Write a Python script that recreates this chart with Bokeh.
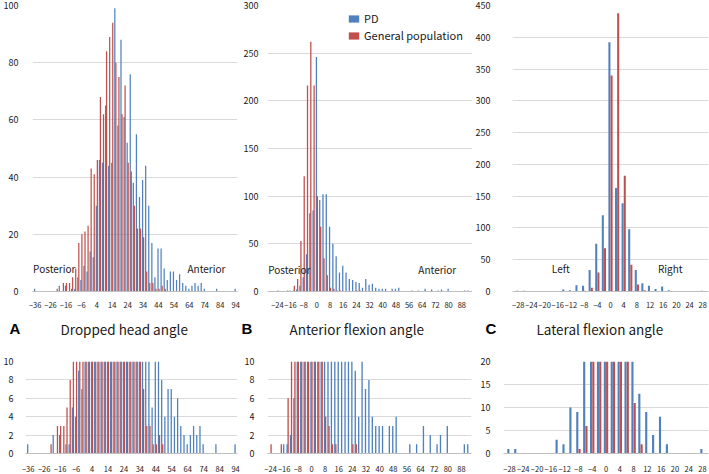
from bokeh.plotting import figure
from bokeh.layouts import column, row
from bokeh.models import ColumnDataSource, FixedTicker, Label, Legend, LegendItem, Range1d
from bokeh.transform import dodge
from bokeh.embed import file_html
from bokeh.resources import INLINE

# ---------------- data ----------------
cats_A = list(range(-36, 96, 2))
pd_A = [1, 0, 0, 0, 0, 0, 0, 0, 2, 0, 2, 0, 1, 1, 5, 4, 9, 7, 14, 12, 30, 46, 45, 65, 44, 45,
        99, 58, 88, 61, 52, 76, 38, 55, 33, 39, 44, 30, 17, 5, 15, 15, 8, 4, 7, 7, 4, 6, 3, 2,
        1, 2, 3, 2, 3, 1, 0, 0, 0, 1, 0, 0, 0, 0, 0, 1]
gp_A = [0, 0, 0, 0, 0, 0, 0, 1, 0, 3, 3, 3, 5, 8, 17, 20, 21, 23, 43, 41, 46, 68, 62, 84, 89, 94,
        80, 75, 62, 72, 45, 42, 30, 22, 22, 19, 7, 3, 3, 1, 1, 2, 1, 0, 0, 0, 0, 0, 0, 0,
        0, 0, 0, 0, 0, 0, 0, 0, 0, 0, 0, 0, 0, 0, 0, 0]
ticks_A = [-36, -26, -16, -6, 4, 14, 24, 34, 44, 54, 64, 74, 84, 94]

cats_B = list(range(-24, 94, 2))
pd_B = [0, 0, 0, 0, 1, 1, 2, 6, 15, 39, 82, 85,
        246, 96, 102, 102, 68, 50, 37, 20, 27, 20, 13, 12, 10, 9, 4, 13, 7, 8, 4, 3, 3, 3, 0, 3, 3, 4,
        0, 0, 0, 1, 0, 1, 0, 3, 0, 2, 0, 1, 2, 0, 3, 0, 0, 0, 0, 1, 1]
gp_B = [1, 0, 0, 1, 0, 6, 13, 53, 121, 216, 262, 216,
        100, 68, 35, 17, 4, 3, 1, 1, 0, 0, 0, 0, 1, 1,
        0, 0, 0, 0, 0, 0, 0, 0, 0, 0, 0, 0, 0, 0, 0, 0, 0, 0, 0, 0, 0, 0, 0, 0, 0, 0, 0, 0, 0, 0, 0, 0, 0]
ticks_B = [-24, -16, -8, 0, 8, 16, 24, 32, 40, 48, 56, 64, 72, 80, 88]

cats_C = list(range(-28, 30, 2))
pd_C = [1, 1, 0, 0, 0, 0, 0, 3, 2, 10, 9, 34, 75, 120, 392, 163, 139, 98, 34, 13, 9, 4, 8, 2, 0, 0, 0, 0, 1]
gp_C = [0, 0, 0, 0, 0, 0, 0, 0, 0, 0, 1, 6, 30, 68, 340, 438, 182, 42, 11, 2, 0, 0, 0, 0, 0, 0, 0, 0, 0]
ticks_C = [-28, -24, -20, -16, -12, -8, -4, 0, 4, 8, 12, 16, 20, 24, 28]

series_names = ["PD", "General population"]
panel_letters = ["A", "B", "C"]
panel_titles = ["Dropped head angle", "Anterior flexion angle", "Lateral flexion angle"]

BLUE = "#4F81BD"
RED = "#C0504D"
FONT = "Noto Sans CJK JP"
TXT = "#1a1a1a"


def panel(cats, pd, gp, xr, yr, yticks, xticks, w, h, bl, br, bt, bb, bar_w, off,
          xfs="7.5px", yfs="9px", ystand=4, xstand=4):
    p = figure(width=w, height=h, x_range=Range1d(*xr), y_range=Range1d(*yr),
               output_backend="svg", toolbar_location=None,
               min_border_left=bl, min_border_right=br, min_border_top=bt, min_border_bottom=bb)
    p.outline_line_color = None
    src = ColumnDataSource(dict(cat=cats, pd=pd, gp=gp))
    rb = p.vbar(x=dodge("cat", -off), top="pd", bottom=0, width=bar_w, source=src,
                fill_color=BLUE, line_color=None)
    rr = p.vbar(x=dodge("cat", off), top="gp", bottom=0, width=bar_w, source=src,
                fill_color=RED, line_color=None)
    p.xgrid.visible = False
    p.ygrid.grid_line_color = "#d9d9d9"
    p.ygrid.grid_line_width = 1
    p.yaxis.ticker = FixedTicker(ticks=yticks)
    p.xaxis.ticker = FixedTicker(ticks=xticks)
    p.yaxis.axis_line_color = None
    p.yaxis.major_tick_line_color = None
    p.yaxis.minor_tick_line_color = None
    p.yaxis.major_label_standoff = ystand
    p.yaxis.major_label_text_font = FONT
    p.yaxis.major_label_text_font_size = yfs
    p.yaxis.major_label_text_color = TXT
    p.xaxis.axis_line_color = "#bfbfbf"
    p.xaxis.major_tick_line_color = None
    p.xaxis.minor_tick_line_color = None
    p.xaxis.major_label_standoff = xstand
    p.xaxis.major_label_text_font = FONT
    p.xaxis.major_label_text_font_size = xfs
    p.xaxis.major_label_text_color = TXT
    return p, rb, rr


def side_label(p, x, y, text):
    p.add_layout(Label(x=x, y=y, text=text, text_font=FONT, text_font_size="10px",
                       text_color=TXT, text_baseline="middle", text_align="left"))


# ---------------- top row ----------------
TOP_H = 310
tA, _, _ = panel(cats_A, pd_A, gp_A, (-37.7, 95.2), (0, 100), [0, 20, 40, 60, 80, 100], ticks_A,
                 240, TOP_H, 23, 3, 5, 15, 0.8, 0.33, ystand=8)
tB, rbB, rrB = panel(cats_B, pd_B, gp_B, (-30, 94.5), (0, 300), [0, 50, 100, 150, 200, 250, 300], ticks_B,
                     232, TOP_H, 18, 0, 5, 15, 0.78, 0.3, ystand=3)
tC, _, _ = panel(cats_C, pd_C, gp_C, (-29.74, 29.74), (0, 450), list(range(0, 451, 50)), ticks_C,
                 237, TOP_H, 31, 1, 5, 15, 0.62, 0.33, ystand=16)

side_label(tA, -37.3, 7.9, "Posterior")
side_label(tA, 62.8, 7.9, "Anterior")
side_label(tB, -29.6, 22.8, "Posterior")
side_label(tB, 61.6, 22.8, "Anterior")
side_label(tC, -17.8, 35.8, "Left")
side_label(tC, 14.4, 35.8, "Right")

legend = Legend(items=[LegendItem(label=series_names[0], renderers=[rbB]),
                       LegendItem(label=series_names[1], renderers=[rrB])],
                location=(80, 248), glyph_width=13, glyph_height=9, label_standoff=4,
                spacing=1, padding=0, margin=0, border_line_color=None,
                background_fill_alpha=0, label_text_font=FONT,
                label_text_font_size="11px", label_text_color=TXT)
tB.add_layout(legend)

# ---------------- title row ----------------
TITLE_H = 35
tt = figure(width=709, height=TITLE_H, x_range=Range1d(0, 709), y_range=Range1d(0, TITLE_H),
            x_axis_type=None, y_axis_type=None, min_border=0,
            output_backend="svg", toolbar_location=None)
tt.outline_line_color = None
letter_x = [9, 241, 485]
title_x = [60, 289, 536]
for lx, tx, letter, title in zip(letter_x, title_x, panel_letters, panel_titles):
    tt.add_layout(Label(x=lx, y=17, text=letter, text_font="Liberation Sans",
                        text_font_style="bold", text_font_size="15px", text_color="#000000",
                        text_baseline="middle", text_align="left"))
    tt.add_layout(Label(x=tx, y=17, text=title, text_font=FONT,
                        text_font_size="13.5px", text_color=TXT,
                        text_baseline="middle", text_align="left"))

# ---------------- bottom row ----------------
BOT_H = 129
bA, _, _ = panel(cats_A, pd_A, gp_A, (-37.7, 95.2), (0, 10), [0, 2, 4, 6, 8, 10], ticks_A,
                 240, BOT_H, 23, 3, 16, 19, 0.8, 0.33, ystand=6, xstand=6)
bB, _, _ = panel(cats_B, pd_B, gp_B, (-25.8, 93.9), (0, 10), [0, 2, 4, 6, 8, 10], ticks_B,
                 232, BOT_H, 27, 1, 16, 19, 0.78, 0.3, ystand=7, xstand=6)
bC, _, _ = panel(cats_C, pd_C, gp_C, (-29.74, 29.74), (0, 20), [0, 5, 10, 15, 20], ticks_C,
                 237, BOT_H, 31, 1, 16, 19, 0.62, 0.33, ystand=7, xstand=6)

layout = column(row(tA, tB, tC), tt, row(bA, bB, bC))

open("out.html", "w").write(file_html(layout, INLINE))
